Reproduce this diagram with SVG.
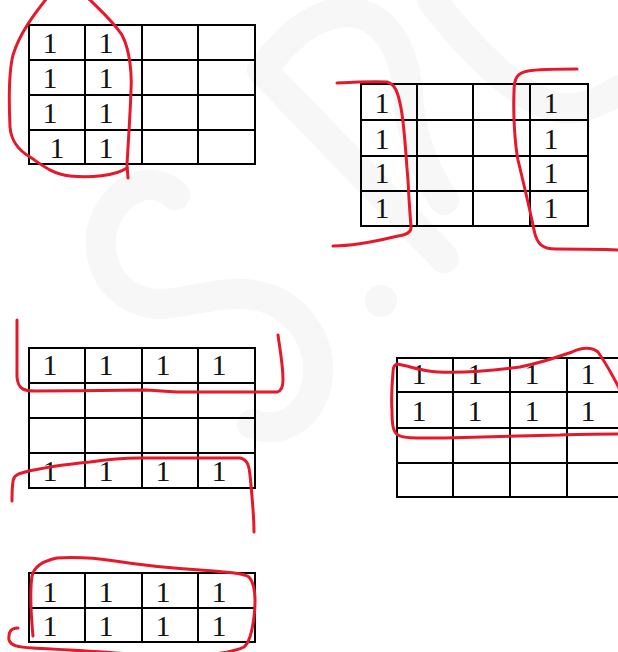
<svg xmlns="http://www.w3.org/2000/svg" width="618" height="652" viewBox="0 0 618 652">
<style>
.wm{fill:none;stroke:#f7f7f7;stroke-width:30;stroke-linecap:round;stroke-linejoin:round}
.grid{fill:none;stroke:#000;stroke-width:2}
.d{font-family:"Liberation Serif","Times New Roman",serif;font-size:30px;fill:#111;text-anchor:middle}
.loop{fill:none;stroke:#e5192b;stroke-width:3;stroke-linecap:round;stroke-linejoin:round}
</style>
<rect width="618" height="652" fill="#fff"/>
<g id="watermark">
<path class="wm" d="M175,195 C150,172 112,190 102,230 C95,270 120,303 160,304 C200,302 232,285 272,300 C320,322 332,380 302,413 C288,428 268,430 252,424"/>
<path class="wm" d="M262,70 L444,258 M262,70 C285,40 310,15 345,12 C385,12 405,50 408,95 C410,140 430,180 444,200"/>
<circle cx="381" cy="301" r="16" fill="#f7f7f7"/>
<path class="wm" d="M432,0 C470,50 520,100 560,108 C582,111 602,100 620,90"/>
</g>
<g id="kmap1">
<rect class="grid" x="29" y="25" width="226" height="139"/>
<path class="grid" d="M85,25V164M142,25V164M198,25V164M29,60H255M29,95H255M29,130H255"/>
<text class="d" x="50" y="53">1</text><text class="d" x="106" y="53">1</text>
<text class="d" x="50" y="88">1</text><text class="d" x="106" y="88">1</text>
<text class="d" x="50" y="123">1</text><text class="d" x="106" y="123">1</text>
<text class="d" x="57" y="158">1</text><text class="d" x="106" y="158">1</text>
</g>
<g id="kmap2">
<rect class="grid" x="361" y="84" width="227" height="142"/>
<path class="grid" d="M417,84V226M473,84V226M530,84V226M361,120H588M361,156H588M361,191H588"/>
<text class="d" x="382" y="113">1</text><text class="d" x="551" y="113">1</text>
<text class="d" x="382" y="149">1</text><text class="d" x="551" y="149">1</text>
<text class="d" x="382" y="183">1</text><text class="d" x="551" y="183">1</text>
<text class="d" x="382" y="218">1</text><text class="d" x="551" y="218">1</text>
</g>
<g id="kmap3">
<rect class="grid" x="29" y="348" width="226" height="140"/>
<path class="grid" d="M85,348V488M142,348V488M198,348V488M29,383H255M29,418H255M29,453H255"/>
<text class="d" x="50" y="375">1</text><text class="d" x="106" y="375">1</text><text class="d" x="163" y="375">1</text><text class="d" x="219" y="375">1</text>
<text class="d" x="50" y="481">1</text><text class="d" x="106" y="481">1</text><text class="d" x="163" y="481">1</text><text class="d" x="219" y="481">1</text>
</g>
<g id="kmap4">
<rect class="grid" x="397" y="358" width="227" height="139"/>
<path class="grid" d="M453,358V497M510,358V497M567,358V497M397,392H624M397,428H624M397,463H624"/>
<text class="d" x="419" y="384">1</text><text class="d" x="475" y="384">1</text><text class="d" x="532" y="384">1</text><text class="d" x="588" y="384">1</text>
<text class="d" x="419" y="421">1</text><text class="d" x="475" y="421">1</text><text class="d" x="532" y="421">1</text><text class="d" x="588" y="421">1</text>
</g>
<g id="kmap5">
<rect class="grid" x="29" y="573" width="226" height="69"/>
<path class="grid" d="M85,573V642M142,573V642M198,573V642M29,608H255"/>
<text class="d" x="50" y="602">1</text><text class="d" x="106" y="602">1</text><text class="d" x="163" y="602">1</text><text class="d" x="219" y="602">1</text>
<text class="d" x="50" y="636">1</text><text class="d" x="106" y="636">1</text><text class="d" x="163" y="636">1</text><text class="d" x="219" y="636">1</text>
</g>
<g id="loops">
<path class="loop" d="M47,-2 C36,12 20,32 13,55 C8,75 9,105 10,127 C11,140 18,150 30,157 C42,165 52,174 70,176 C90,178 115,176 127,168"/>
<path class="loop" d="M88,-2 C100,10 112,20 122,35 C130,50 132,75 131,90 C130,120 128,145 127,165 L128,178"/>
<path class="loop" d="M337,83 C355,82 375,81 387,82 C395,84 398,92 401,108 C405,130 406,160 408,180 C409,200 410,215 411,226 C412,233 405,235 398,236 C385,239 360,246 333,246"/>
<path class="loop" d="M577,69 C560,69 540,69 528,71 C517,73 514,78 514,92 C513,115 515,145 518,160 C524,185 530,210 534,230 C537,245 543,249 556,249 C580,249 600,249 620,250"/>
<path class="loop" d="M17,320 C17,340 17,365 17,377 C18,390 25,391 35,391 C70,391 120,390 145,390 C165,391 170,392 180,392 C220,392 260,392 277,392 C282,391 283,386 283,380 C283,365 280,350 278,335"/>
<path class="loop" d="M12,501 C12,490 12,482 14,478 C16,474 19,474 25,472 C45,467 70,464 90,462 C110,459 125,458 140,458 C180,458 220,458 240,458 C247,459 249,465 250,475 C252,495 254,515 254,532"/>
<path class="loop" d="M620,390 C614,378 605,362 598,352 C592,347 582,347 572,352 C560,356 545,362 520,367 C490,371 460,373 438,372 C420,371 410,366 397,364 C394,365 393,368 393,372 C392,385 391,400 392,410 C392,425 393,432 398,435 C405,439 420,438 445,438 C480,437 520,436 560,435 C580,434 600,434 620,434"/>
<path class="loop" d="M33,636 C31,615 30,590 32,576 C34,567 42,561 57,558 C75,557 95,558 115,561 C140,565 170,568 200,570 C225,572 243,573 249,577 C256,585 256,600 254,617 C252,633 249,643 244,647 C236,651 228,652 215,654 C190,656 160,655 130,654 C90,651 50,649 33,648 C18,647 11,646 9,640 C8,632 11,628 18,628"/>
</g>
</svg>
